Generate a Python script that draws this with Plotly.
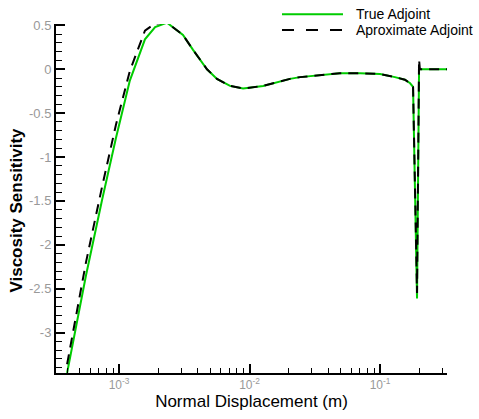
import plotly.graph_objects as go

# ---- data ----
x_true = [4.00e-4, 5.58e-4, 7.41e-4, 9.48e-4, 1.21e-3, 1.58e-3, 1.89e-3, 2.33e-3,
          3.09e-3, 3.69e-3, 4.72e-3, 5.63e-3, 7.09e-3, 8.92e-3, 1.27e-2, 2.04e-2,
          2.44e-2, 3.47e-2, 4.93e-2, 7.03e-2, 0.100, 0.130, 0.155, 0.170, 0.179,
          0.192, 0.199, 0.326]
y_true = [-3.46, -2.35, -1.49, -0.78, -0.13, 0.34, 0.48, 0.53,
          0.39, 0.22, 0.0, -0.11, -0.19, -0.22, -0.19, -0.11,
          -0.09, -0.07, -0.045, -0.045, -0.055, -0.09, -0.12, -0.16, -0.20,
          -2.61, 0.0, 0.0]

x_approx = [4.00e-4, 5.58e-4, 7.41e-4, 9.48e-4, 1.21e-3, 1.58e-3, 1.89e-3, 2.33e-3,
            3.09e-3, 3.69e-3, 4.72e-3, 5.63e-3, 7.09e-3, 8.92e-3, 1.27e-2, 2.04e-2,
            2.44e-2, 3.47e-2, 4.93e-2, 7.03e-2, 0.100, 0.130, 0.155, 0.170, 0.179,
            0.192, 0.199, 0.202, 0.326]
y_approx = [-3.36, -2.20, -1.34, -0.63, -0.02, 0.44, 0.52, 0.53,
            0.39, 0.22, 0.0, -0.11, -0.19, -0.22, -0.19, -0.11,
            -0.09, -0.07, -0.045, -0.045, -0.055, -0.09, -0.12, -0.16, -0.20,
            -2.55, 0.11, 0.0, 0.0]

x_tickvals = [1e-3, 1e-2, 1e-1]
x_ticktext = ["10<sup>-3</sup>", "10<sup>-2</sup>", "10<sup>-1</sup>"]
x_minor = [4e-4, 5e-4, 6e-4, 7e-4, 8e-4, 9e-4,
           2e-3, 3e-3, 4e-3, 5e-3, 6e-3, 7e-3, 8e-3, 9e-3,
           2e-2, 3e-2, 4e-2, 5e-2, 6e-2, 7e-2, 8e-2, 9e-2,
           2e-1, 3e-1]
y_tickvals = [0.5, 0, -0.5, -1, -1.5, -2, -2.5, -3]
y_ticktext = ["0.5", "0", "-0.5", "-1", "-1.5", "-2", "-2.5", "-3"]

legend_names = ["True Adjoint", "Aproximate Adjoint"]
x_title = "Normal Displacement (m)"
y_title = "Viscosity Sensitivity"

GREEN = "#00cc00"
FONT = "Liberation Sans, Arial, sans-serif"

fig = go.Figure()
fig.add_trace(go.Scatter(x=x_true, y=y_true, mode="lines", name=legend_names[0],
                         line=dict(color=GREEN, width=2), showlegend=False))
fig.add_trace(go.Scatter(x=x_approx, y=y_approx, mode="lines", name=legend_names[1],
                         line=dict(color="black", width=2, dash="10px,7px"),
                         showlegend=False))

# manual legend
fig.add_shape(type="line", xref="paper", yref="paper", x0=0.578, x1=0.734,
              y0=1.028, y1=1.028, line=dict(color=GREEN, width=2))
fig.add_shape(type="line", xref="paper", yref="paper", x0=0.578, x1=0.734,
              y0=0.983, y1=0.983, line=dict(color="black", width=2, dash="12px,12px"))
fig.add_annotation(xref="paper", yref="paper", x=0.762, y=1.028, text=legend_names[0],
                   showarrow=False, xanchor="left", yanchor="middle",
                   font=dict(family=FONT, size=14, color="black"))
fig.add_annotation(xref="paper", yref="paper", x=0.762, y=0.983, text=legend_names[1],
                   showarrow=False, xanchor="left", yanchor="middle",
                   font=dict(family=FONT, size=14, color="black"))

# y-axis title placed as in the reference (slightly below centre)
fig.add_annotation(xref="paper", yref="paper", x=-0.1, y=0.468, text="<b>" + y_title + "</b>",
                   textangle=-90, showarrow=False, xanchor="center", yanchor="middle",
                   font=dict(family=FONT, size=17, color="black"))

fig.update_layout(
    width=479, height=419,
    margin=dict(l=56, r=32, t=24, b=40),
    paper_bgcolor="white", plot_bgcolor="white",
    showlegend=False,
    font=dict(family=FONT),
)
fig.update_xaxes(
    type="log", range=[-3.483, -0.487],
    showgrid=False, zeroline=False,
    showline=True, linecolor="black", linewidth=2,
    ticks="inside", ticklen=9, tickwidth=2, tickcolor="black",
    tickvals=x_tickvals, ticktext=x_ticktext,
    tickfont=dict(family=FONT, size=12, color="#999999"),
    minor=dict(tickvals=x_minor, ticks="inside", ticklen=5, tickwidth=1,
               tickcolor="black", showgrid=False),
    title=dict(text=x_title, standoff=3,
               font=dict(family=FONT, size=17, color="black")),
)
fig.update_yaxes(
    range=[-3.46, 0.515],
    showgrid=False, zeroline=False,
    showline=True, linecolor="black", linewidth=2,
    ticks="inside", ticklen=9, tickwidth=2, tickcolor="black",
    tickvals=y_tickvals, ticktext=y_ticktext,
    tickfont=dict(family=FONT, size=13, color="#999999"),
    minor=dict(dtick=0.1, ticks="inside", ticklen=6, tickwidth=1,
               tickcolor="black", showgrid=False),
)

fig.write_html("out.html")
